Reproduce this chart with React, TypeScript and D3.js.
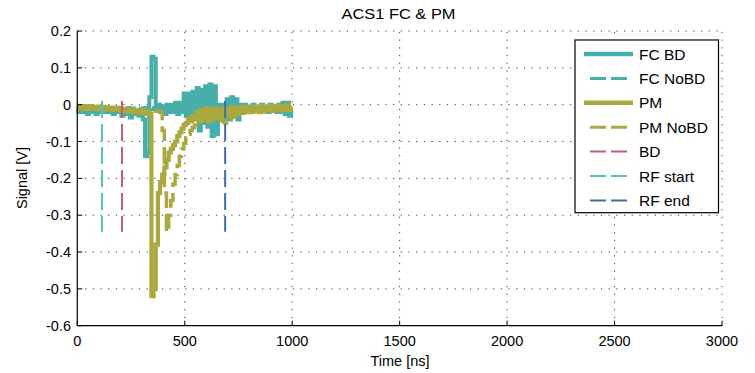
import React from "react";
import * as d3 from "d3";

// ---------- data ----------
const sampleStepNs = 10; // samples every 10 ns from 0 to 1000 ns

const fcBD = [
  -0.01, -0.02, -0.01, -0.02, -0.015, -0.025, -0.01, -0.02, -0.015, -0.025,
  -0.01, -0.02, -0.015, -0.02, -0.01, -0.02, -0.015, -0.025, -0.01, -0.02,
  -0.015, -0.03, -0.015, -0.025, -0.02, -0.035, -0.015, -0.025, -0.02, -0.03,
  -0.02, -0.04, -0.14, -0.13, 0.02, 0.13, 0.125, -0.01, 0.0, -0.02,
  -0.005, -0.025, 0.0, -0.02, 0.0, -0.02, 0.005, -0.025, 0.005, -0.02,
  0.03, -0.03, 0.03, -0.04, 0.035, -0.03, 0.045, -0.07, 0.04, -0.05,
  0.05, -0.06, 0.055, -0.085, 0.05, -0.08, 0.0, -0.03, 0.0, -0.04,
  0.015, -0.04, 0.02, -0.03, 0.015, -0.04, 0.0, -0.02, 0.0, -0.02,
  -0.005, -0.02, 0.0, -0.015, -0.005, -0.02, 0.0, -0.015, -0.005, -0.02,
  0.0, -0.015, -0.005, -0.02, 0.0, -0.02, 0.005, -0.025, 0.005, -0.03,
  -0.01,
];

const fcNoBD = [
  -0.008, -0.014, -0.009, -0.013, -0.008, -0.014, -0.009, -0.013, -0.008, -0.014,
  -0.009, -0.013, -0.008, -0.014, -0.009, -0.013, -0.008, -0.014, -0.009, -0.013,
  -0.008, -0.014, -0.009, -0.013, -0.008, -0.014, -0.009, -0.013, -0.008, -0.014,
  -0.009, -0.013, -0.008, -0.014, -0.009, -0.013, -0.008, -0.014, -0.009, -0.013,
  -0.008, -0.014, -0.009, -0.013, -0.008, -0.014, -0.009, -0.013, -0.008, -0.014,
  -0.009, -0.013, -0.008, -0.014, -0.009, -0.013, -0.008, -0.014, -0.009, -0.013,
  -0.008, -0.014, -0.009, -0.013, -0.008, -0.014, -0.009, -0.013, -0.008, -0.014,
  -0.009, -0.013, -0.008, -0.014, -0.009, -0.013, -0.008, -0.014, -0.009, -0.013,
  -0.008, -0.014, -0.009, -0.013, -0.008, -0.014, -0.009, -0.013, -0.008, -0.014,
  -0.009, -0.013, -0.008, -0.014, -0.009, -0.013, -0.008, -0.014, -0.009, -0.013,
  -0.01,
];

const pm = [
  -0.003, -0.010, -0.004, -0.011, -0.005, -0.012, -0.004, -0.010, -0.006, -0.012,
  -0.005, -0.011, -0.006, -0.013, -0.007, -0.012, -0.008, -0.014, -0.008, -0.015,
  -0.010, -0.016, -0.011, -0.018, -0.012, -0.019, -0.014, -0.020, -0.015, -0.022,
  -0.017, -0.023, -0.019, -0.025, -0.024, -0.52, -0.50, -0.38, -0.24, -0.21,
  -0.19, -0.17, -0.15, -0.13, -0.12, -0.11, -0.10, -0.085, -0.075, -0.065,
  -0.055, -0.05, -0.04, -0.045, -0.03, -0.04, -0.02, -0.045, -0.015, -0.04,
  -0.01, -0.045, -0.015, -0.04, -0.01, -0.035, -0.015, -0.04, -0.01, -0.03,
  -0.012, -0.03, -0.008, -0.025, -0.01, -0.025, -0.008, -0.022, -0.006, -0.02,
  -0.008, -0.02, -0.005, -0.018, -0.006, -0.02, -0.004, -0.018, -0.006, -0.016,
  -0.004, -0.017, -0.005, -0.015, -0.003, -0.016, -0.004, -0.015, -0.002, -0.014,
  -0.008,
];

const pmNoBD = [
  -0.006, -0.011, -0.006, -0.012, -0.007, -0.011, -0.006, -0.012, -0.007, -0.012,
  -0.007, -0.012, -0.008, -0.013, -0.008, -0.013, -0.009, -0.014, -0.009, -0.014,
  -0.010, -0.015, -0.011, -0.016, -0.012, -0.017, -0.012, -0.018, -0.013, -0.018,
  -0.014, -0.019, -0.015, -0.019, -0.016, -0.018, -0.017, -0.018, -0.018, -0.02,
  -0.07, -0.24, -0.345, -0.30, -0.26, -0.215, -0.19, -0.165, -0.14, -0.12,
  -0.105, -0.09, -0.08, -0.07, -0.062, -0.055, -0.05, -0.045, -0.042, -0.04,
  -0.038, -0.036, -0.035, -0.034, -0.033, -0.032, -0.035, -0.04, -0.045, -0.05,
  -0.045, -0.04, -0.035, -0.03, -0.028, -0.025, -0.022, -0.021, -0.02, -0.019,
  -0.018, -0.018, -0.017, -0.016, -0.016, -0.015, -0.015, -0.014, -0.014, -0.013,
  -0.013, -0.012, -0.012, -0.012, -0.011, -0.011, -0.011, -0.010, -0.010, -0.010,
  -0.010,
];

const markerTimes = { bd: 208, rfStart: 115, rfEnd: 688 }; // ns
const markerRange = [0.01, -0.345]; // V

const xTicks = [0, 500, 1000, 1500, 2000, 2500, 3000];
const yTicks = [-0.6, -0.5, -0.4, -0.3, -0.2, -0.1, 0, 0.1, 0.2];
const yTickLabels = ["-0.6", "-0.5", "-0.4", "-0.3", "-0.2", "-0.1", "0", "0.1", "0.2"];

const legendLabels = ["FC BD", "FC NoBD", "PM", "PM NoBD", "BD", "RF start", "RF end"];

// ---------- styles ----------
const C_FC = "#48AEA9";
const C_PM = "#A9A93F";
const C_BD = "#C1606F";
const C_RFS = "#52C2C2";
const C_RFE = "#3E6EA2";
const FONT = "'Liberation Sans', Arial, sans-serif";

export default function App() {
  const left = 77.3, right = 722, top = 31, bottom = 325.7;
  const x = d3.scaleLinear().domain([0, 3000]).range([left, right]);
  const y = d3.scaleLinear().domain([-0.6, 0.2]).range([bottom, top]);

  const line = d3
    .line<number>()
    .x((_, i) => x(i * sampleStepNs))
    .y((d) => y(d))
    .curve(d3.curveStep);

  const dash = "17 6";

  const markers = [
    { t: markerTimes.rfStart, c: C_RFS },
    { t: markerTimes.bd, c: C_BD },
    { t: markerTimes.rfEnd, c: C_RFE },
  ];

  const legendStyles = [
    { c: C_FC, w: 4.5, dashed: false },
    { c: C_FC, w: 3, dashed: true },
    { c: C_PM, w: 4.5, dashed: false },
    { c: C_PM, w: 3, dashed: true },
    { c: C_BD, w: 2, dashed: true },
    { c: C_RFS, w: 2, dashed: true },
    { c: C_RFE, w: 2, dashed: true },
  ];

  const gridColor = "#3a3a3a";
  const gridDash = "1.2 6.5";

  return (
    <svg
      width={755}
      height={373}
      style={{ position: "absolute", left: 0, top: 0, background: "#fff" }}
      fontFamily={FONT}
    >
      <rect x={0} y={0} width={755} height={373} fill="#fff" />
      {/* grid */}
      {xTicks.filter((t) => t !== 0).map((t) => (
        <line key={"gx" + t} x1={x(t)} x2={x(t)} y1={bottom} y2={top}
          stroke={gridColor} strokeWidth={1} strokeDasharray={gridDash} />
      ))}
      {yTicks.filter((t) => t !== -0.6).map((t) => (
        <line key={"gy" + t} x1={left} x2={right} y1={y(t)} y2={y(t)}
          stroke={gridColor} strokeWidth={1} strokeDasharray={gridDash} />
      ))}

      {/* data */}
      <path d={line(fcBD) || ""} fill="none" stroke={C_FC} strokeWidth={4} />
      <path d={line(fcNoBD) || ""} fill="none" stroke={C_FC} strokeWidth={3} strokeDasharray={dash} />
      <path d={line(pm) || ""} fill="none" stroke={C_PM} strokeWidth={4.2} />
      <path d={line(pmNoBD) || ""} fill="none" stroke={C_PM} strokeWidth={3.5} strokeDasharray={dash} />
      {markers.map((m) => (
        <line key={m.t} x1={x(m.t)} x2={x(m.t)} y1={y(markerRange[0])} y2={y(markerRange[1])}
          stroke={m.c} strokeWidth={2} strokeDasharray={dash} />
      ))}

      {/* axes */}
      <line x1={left} x2={left} y1={top} y2={bottom} stroke="#000" strokeWidth={1.2} />
      <line x1={left} x2={right} y1={bottom} y2={bottom} stroke="#000" strokeWidth={1.2} />
      {yTicks.map((t, i) => (
        <g key={"yt" + t}>
          <line x1={left} x2={left + 5} y1={y(t)} y2={y(t)} stroke="#000" strokeWidth={1} />
          <text x={71} y={y(t) + 5} textAnchor="end" fontSize={14.5} fill="#000">
            {yTickLabels[i]}
          </text>
        </g>
      ))}
      {xTicks.map((t) => (
        <g key={"xt" + t}>
          <line x1={x(t)} x2={x(t)} y1={bottom} y2={bottom - 5} stroke="#000" strokeWidth={1} />
          <text x={x(t)} y={345.5} textAnchor="middle" fontSize={14.5} fill="#000">
            {String(t)}
          </text>
        </g>
      ))}

      {/* labels */}
      <text x={398.5} y={19} textAnchor="middle" fontSize={14.5} textLength={114} lengthAdjust="spacingAndGlyphs" fill="#000">
        ACS1 FC &amp; PM
      </text>
      <text x={400} y={366} textAnchor="middle" fontSize={14.5} fill="#000">
        Time [ns]
      </text>
      <text transform="translate(27,178) rotate(-90)" textAnchor="middle" fontSize={14.5} fill="#000">
        Signal [V]
      </text>

      {/* legend */}
      <rect x={575} y={40} width={143.5} height={172.7} fill="#fff" stroke="#000" strokeWidth={1.2} />
      {legendLabels.map((lab, i) => {
        const yy = 54 + i * 24.4;
        const s = legendStyles[i];
        return (
          <g key={lab}>
            {s.dashed ? (
              <line x1={590} x2={627} y1={yy} y2={yy} stroke={s.c} strokeWidth={s.w} strokeDasharray="16 5" />
            ) : (
              <line x1={584} x2={633} y1={yy} y2={yy} stroke={s.c} strokeWidth={s.w} />
            )}
            <text x={639} y={yy + 5.5} fontSize={15.5} fill="#000">
              {lab}
            </text>
          </g>
        );
      })}
    </svg>
  );
}
